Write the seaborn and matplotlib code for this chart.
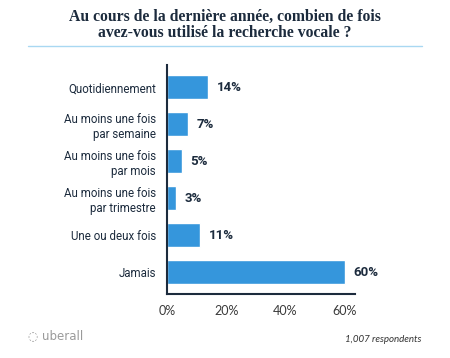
import pandas as pd
import seaborn as sns
import matplotlib.pyplot as plt

# Données
categories = ["Quotidiennement", "Au moins une fois\npar semaine", "Au moins une fois\npar mois",
              "Au moins une fois\npar trimestre", "Une ou deux fois", "Jamais"]
values = [14, 7, 5, 3, 11, 60]
value_labels = ["14%", "7%", "5%", "3%", "11%", "60%"]
x_ticks = [0, 20, 40, 60]
x_tick_labels = ["0%", "20%", "40%", "60%"]

df = pd.DataFrame({"categorie": categories, "valeur": values})

sns.set_style("white")
plt.rcParams['font.family'] = ['Roboto', 'DejaVu Sans']

navy = "#1c2b3d"
bleu = "#3596dc"

fig = plt.figure(figsize=(4.5, 3.58), dpi=100)
ax = fig.add_axes([0.371, 0.179, 0.418, 0.639])

sns.barplot(data=df, x="valeur", y="categorie", color=bleu, width=0.65, ax=ax, saturation=1)

# étiquettes de valeur
for i, (v, lab) in enumerate(zip(values, value_labels)):
    ax.text(v + 3, i, lab, va="center", ha="left", fontsize=9.5, fontweight="bold", color=navy)

ax.set_xlim(0, 63.5)
ax.set_ylim(5.59, -0.595)
ax.set_xticks(x_ticks)
ax.set_xticklabels(x_tick_labels, fontsize=9, color="#3a3a3a", family=['Lato', 'DejaVu Sans'])
ax.tick_params(axis="y", length=0, pad=8, labelsize=8.3, labelcolor=navy)
ax.tick_params(axis="x", length=0, pad=8)
ax.set_xlabel("")
ax.set_ylabel("")
for s in ["top", "right"]:
    ax.spines[s].set_visible(False)
for s in ["left", "bottom"]:
    ax.spines[s].set_color(navy)
    ax.spines[s].set_linewidth(1.5)

fig.text(0.5, 0.975, "Au cours de la dernière année, combien de fois\navez-vous utilisé la recherche vocale ?",
         ha="center", va="top", fontsize=11.3, fontweight="bold", color=navy,
         family=['Liberation Serif', 'DejaVu Serif'], linespacing=1.0)
fig.add_artist(plt.Line2D([28 / 450, 422 / 450], [1 - 46 / 358, 1 - 46 / 358], color="#a9d8f2", linewidth=1))

fig.text(421 / 450, 1 - 339 / 358, "1,007 respondents", ha="right", va="center", fontsize=7,
         style="italic", color="#333333", family=['Lato', 'DejaVu Sans'])
fig.text(28 / 450, 1 - 336 / 358, "\u25CC uberall", ha="left", va="center", fontsize=8.5,
         color="#9a9a9a", family=['DejaVu Sans'])

fig.savefig("out.png", dpi=100)
